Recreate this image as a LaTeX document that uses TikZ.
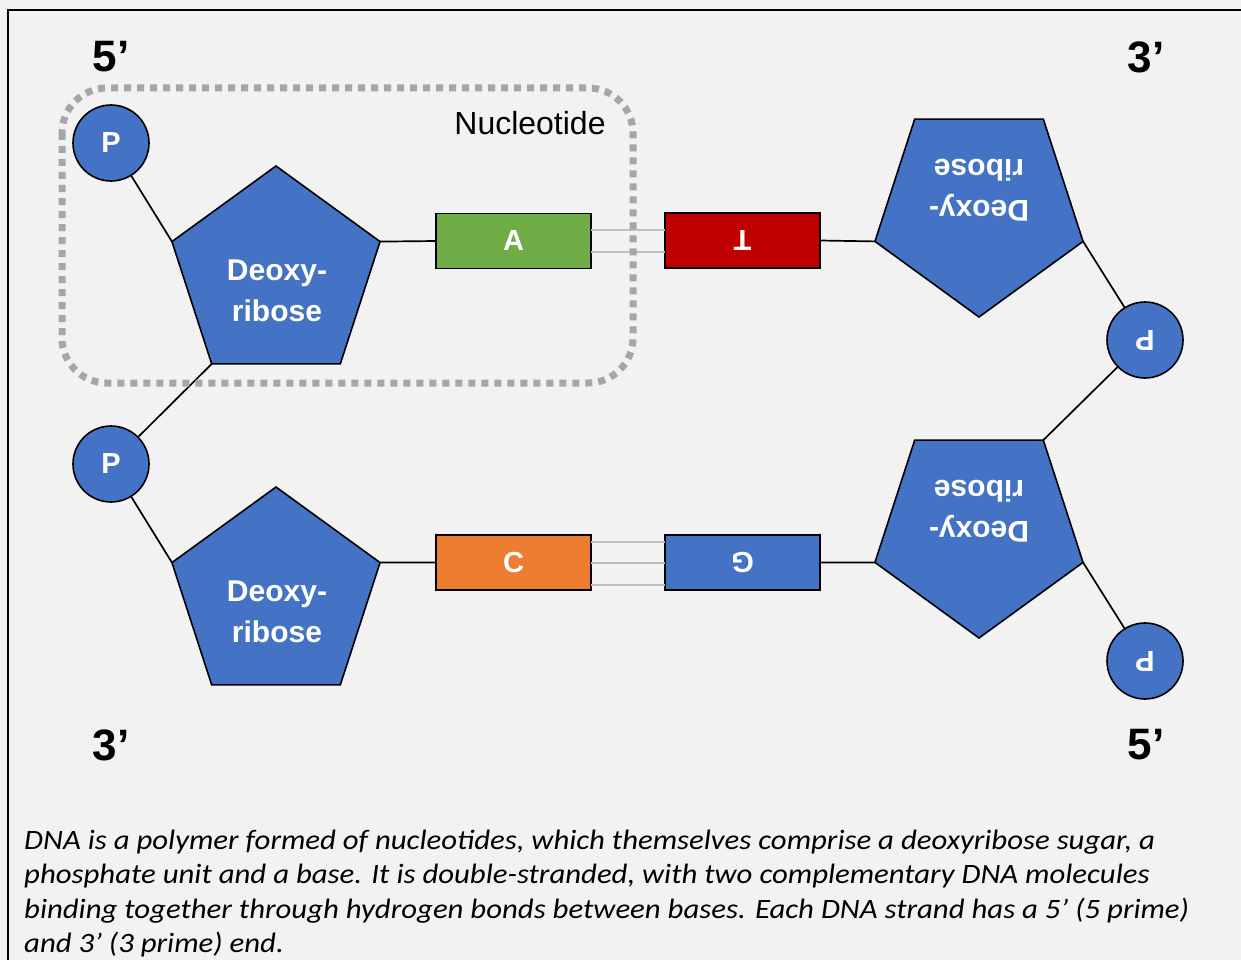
\documentclass[tikz,border=0pt]{standalone}
\usepackage{fontspec}
\setmainfont{Liberation Sans}
\newfontfamily\capfont[FakeStretch=1.1]{Carlito}
\usetikzlibrary{shapes.geometric,calc}
\definecolor{bg}{HTML}{F2F2F2}
\definecolor{dnablue}{HTML}{4472C4}
\definecolor{dnagreen}{HTML}{70AD47}
\definecolor{dnared}{HTML}{C00000}
\definecolor{dnaorange}{HTML}{ED7D31}
\definecolor{bondgray}{HTML}{BFBFBF}
\definecolor{boxgray}{HTML}{A6A6A6}
\begin{document}
\begin{tikzpicture}[x=1pt,y=-1pt,
  sugar/.style={regular polygon, regular polygon sides=5, minimum size=218.8pt,
    inner sep=0pt, outer sep=0pt, fill=dnablue, draw=black, line width=1.6pt},
  phos/.style={circle, minimum size=76pt, inner sep=0pt, fill=dnablue, draw=black,
    line width=1.6pt, text=white, font=\fontsize{29}{34}\selectfont\bfseries},
  basebox/.style={rectangle, minimum width=155pt, minimum height=55pt, inner sep=0pt,
    outer sep=0pt, draw=black, line width=1.6pt, text=white,
    font=\fontsize{29}{34}\selectfont\bfseries},
  sugartext/.style={align=center, text=white, font=\fontsize{30}{41}\selectfont\bfseries},
  endlabel/.style={font=\fontsize{44}{50}\selectfont\bfseries},
  link/.style={draw=black, line width=1.7pt},
  bond/.style={draw=bondgray, line width=2pt},
  captext/.style={anchor=base west, inner sep=0pt, font=\capfont\itshape\fontsize{28}{34}\selectfont}
]
\useasboundingbox (0,0) rectangle (1241,960);
\clip (0,0) rectangle (1241,960);
\fill[bg] (0,0) rectangle (1241,960);
\draw[line width=2.5pt] (8,10) rectangle (1270,990);

% sugars
\node[sugar] (S1) at (276,275.4) {};
\node[sugar] (S2) at (276,596.4) {};
\node[sugar, shape border rotate=180] (S3) at (979,207.6) {};
\node[sugar, shape border rotate=180] (S4) at (979,528.6) {};
\node[sugartext] (S1t) at (277,291) {Deoxy-\\ribose};
\node[sugartext] (S2t) at (277,612) {Deoxy-\\ribose};
\node[sugartext, rotate=180] (S3t) at (979,190) {Deoxy-\\ribose};
\node[sugartext, rotate=180] (S4t) at (979,511) {Deoxy-\\ribose};

% phosphates
\node[phos] (P1) at (111,143) {P};
\node[phos] (P2) at (111,464) {P};
\node[phos, rotate=180] (P3) at (1145,340) {P};
\node[phos, rotate=180] (P4) at (1145,661) {P};

% bases
\node[basebox, fill=dnagreen] (A) at (513.5,241) {A};
\node[basebox, fill=dnared] (T) at (742.5,240.5) {\rotatebox{180}{T}};
\node[basebox, fill=dnaorange] (C) at (513.5,562.5) {C};
\node[basebox, fill=dnablue] (G) at (742.5,562.5) {\rotatebox{180}{G}};

% backbone links
\draw[link] (P1) -- (S1.corner 2);
\draw[link] (S1.corner 5) -- (A.west);
\draw[link] (S1.corner 3) -- (P2);
\draw[link] (P2) -- (S2.corner 2);
\draw[link] (S2.corner 5) -- (C.west);
\draw[link] (T.east) -- (S3.corner 5);
\draw[link] (S3.corner 2) -- (P3);
\draw[link] (P3) -- (S4.corner 3);
\draw[link] (G.east) -- (S4.corner 5);
\draw[link] (S4.corner 2) -- (P4);

% hydrogen bonds
\draw[bond] ([yshift=11pt]A.east) -- ([yshift=11pt]A.east -| T.west);
\draw[bond] ([yshift=-11pt]A.east) -- ([yshift=-11pt]A.east -| T.west);
\draw[bond] ([yshift=21pt]C.east) -- ([yshift=21pt]C.east -| G.west);
\draw[bond] (C.east) -- (C.east -| G.west);
\draw[bond] ([yshift=-22pt]C.east) -- ([yshift=-22pt]C.east -| G.west);

% nucleotide box
\draw[boxgray, line width=7pt, dash pattern=on 7pt off 6pt, rounded corners=45pt]
  (62,88) rectangle (633,383);
\node[font=\fontsize{32}{38}\selectfont] (nuc) at (530,123) {Nucleotide};

% end labels
\node[endlabel] (e1) at (111,57) {5’};
\node[endlabel] (e2) at (1146,57) {3’};
\node[endlabel] (e3) at (111,745) {3’};
\node[endlabel] (e4) at (1146,745) {5’};

% caption
\node[captext] (c1) at (24,849) {DNA is a polymer formed of nucleotides, which themselves comprise a deoxyribose sugar, a};
\node[captext] (c2) at (24,883.5) {phosphate unit and a base. It is double-stranded, with two complementary DNA molecules};
\node[captext] (c3) at (24,918) {binding together through hydrogen bonds between bases. Each DNA strand has a 5’ (5 prime)};
\node[captext] (c4) at (24,952.5) {and 3’ (3 prime) end.};
\end{tikzpicture}
\end{document}
